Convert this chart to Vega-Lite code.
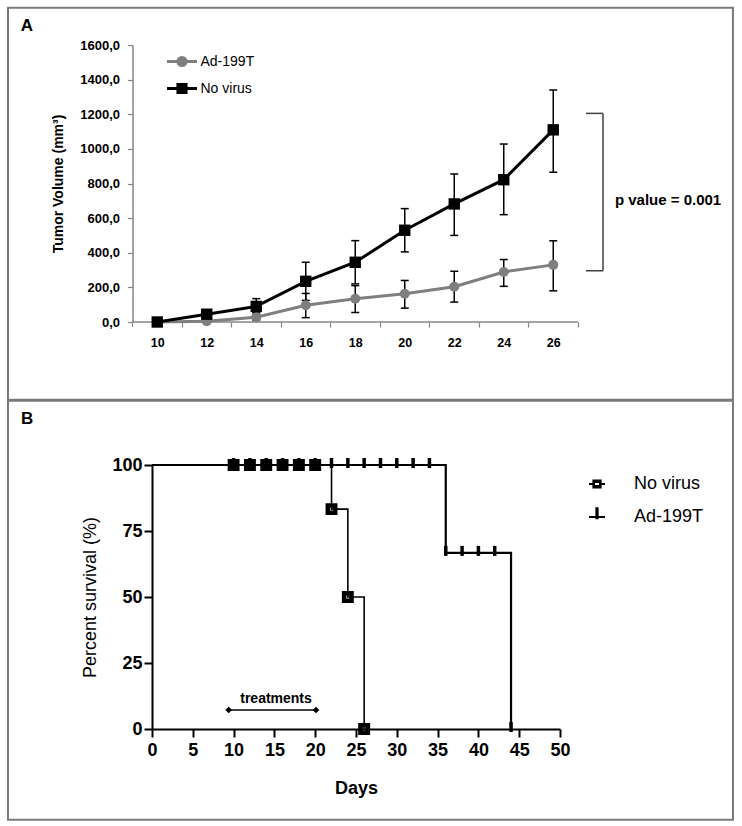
{
  "$schema": "https://vega.github.io/schema/vega-lite/v6.json",
  "padding": {"left": 6, "top": 6, "right": 0, "bottom": 0},
  "spacing": -2,
  "resolve": {
    "scale": {"fill": "independent", "stroke": "independent", "shape": "independent"},
    "legend": {"fill": "independent", "stroke": "independent", "shape": "independent"}
  },
  "config": {
    "view": {"stroke": null},
    "font": "Liberation Sans",
    "axis": {"grid": false, "labelOverlap": false},
    "locale": {"number": {"decimal": ",", "thousands": ".", "grouping": [3], "currency": ["", ""]}}
  },
  "datasets": {
    "tumor": [
      {"group": "Ad-199T", "day": 10, "mean": 0, "lo": 0, "hi": 0},
      {"group": "Ad-199T", "day": 12, "mean": 5, "lo": 0, "hi": 15},
      {"group": "Ad-199T", "day": 14, "mean": 28, "lo": 10, "hi": 45},
      {"group": "Ad-199T", "day": 16, "mean": 97, "lo": 25, "hi": 165},
      {"group": "Ad-199T", "day": 18, "mean": 134, "lo": 55, "hi": 210},
      {"group": "Ad-199T", "day": 20, "mean": 163, "lo": 80, "hi": 240},
      {"group": "Ad-199T", "day": 22, "mean": 204, "lo": 115, "hi": 293},
      {"group": "Ad-199T", "day": 24, "mean": 289, "lo": 206, "hi": 361},
      {"group": "Ad-199T", "day": 26, "mean": 330, "lo": 180, "hi": 469},
      {"group": "No virus", "day": 10, "mean": 0, "lo": 0, "hi": 0},
      {"group": "No virus", "day": 12, "mean": 45, "lo": 30, "hi": 60},
      {"group": "No virus", "day": 14, "mean": 90, "lo": 55, "hi": 135},
      {"group": "No virus", "day": 16, "mean": 235, "lo": 125, "hi": 345},
      {"group": "No virus", "day": 18, "mean": 345, "lo": 220, "hi": 470},
      {"group": "No virus", "day": 20, "mean": 530, "lo": 405, "hi": 655},
      {"group": "No virus", "day": 22, "mean": 682, "lo": 500, "hi": 855},
      {"group": "No virus", "day": 24, "mean": 822, "lo": 620, "hi": 1028},
      {"group": "No virus", "day": 26, "mean": 1110, "lo": 865, "hi": 1340}
    ],
    "survival": [
      {"group": "No virus", "day": 0, "pct": 100},
      {"group": "No virus", "day": 22, "pct": 83.3},
      {"group": "No virus", "day": 24, "pct": 50},
      {"group": "No virus", "day": 26, "pct": 0},
      {"group": "Ad-199T", "day": 0, "pct": 100},
      {"group": "Ad-199T", "day": 36, "pct": 66.7},
      {"group": "Ad-199T", "day": 44, "pct": 0}
    ],
    "censor": [
      {"group": "Ad-199T", "day": 10, "pct": 100},
      {"group": "Ad-199T", "day": 12, "pct": 100},
      {"group": "Ad-199T", "day": 14, "pct": 100},
      {"group": "Ad-199T", "day": 16, "pct": 100},
      {"group": "Ad-199T", "day": 18, "pct": 100},
      {"group": "Ad-199T", "day": 20, "pct": 100},
      {"group": "Ad-199T", "day": 22, "pct": 100},
      {"group": "Ad-199T", "day": 24, "pct": 100},
      {"group": "Ad-199T", "day": 26, "pct": 100},
      {"group": "Ad-199T", "day": 28, "pct": 100},
      {"group": "Ad-199T", "day": 30, "pct": 100},
      {"group": "Ad-199T", "day": 32, "pct": 100},
      {"group": "Ad-199T", "day": 34, "pct": 100},
      {"group": "Ad-199T", "day": 36, "pct": 66.7},
      {"group": "Ad-199T", "day": 38, "pct": 66.7},
      {"group": "Ad-199T", "day": 40, "pct": 66.7},
      {"group": "Ad-199T", "day": 42, "pct": 66.7},
      {"group": "Ad-199T", "day": 44, "pct": 0},
      {"group": "No virus", "day": 10, "pct": 100},
      {"group": "No virus", "day": 12, "pct": 100},
      {"group": "No virus", "day": 14, "pct": 100},
      {"group": "No virus", "day": 16, "pct": 100},
      {"group": "No virus", "day": 18, "pct": 100},
      {"group": "No virus", "day": 20, "pct": 100},
      {"group": "No virus", "day": 22, "pct": 83.3},
      {"group": "No virus", "day": 24, "pct": 50},
      {"group": "No virus", "day": 26, "pct": 0}
    ],
    "treat": [
      {"day": 9.4, "pct": 7.2},
      {"day": 20.1, "pct": 7.2}
    ]
  },
  "vconcat": [
    {
      "width": 426,
      "height": 277,
      "layer": [
        {
          "data": {"values": [{}]},
          "mark": {"type": "rect", "clip": false, "fill": "transparent", "stroke": "#7a7a7a", "strokeWidth": 2},
          "encoding": {
            "x": {"datum": 3.97, "type": "quantitative", "scale": {"domain": [9.788, 27], "nice": false, "zero": false},
              "axis": {"values": [11, 13, 15, 17, 19, 21, 23, 25, 27], "tickCount": 9, "labelExpr": "format(datum.value - 1, 'd')", "labelOffset": -24.75, "title": null, "domain": false, "tickColor": "#868686", "tickWidth": 1.2, "tickSize": 5, "labelFontSize": 12.5, "labelFontWeight": "bold", "labelColor": "black", "labelPadding": 9, "labelFlush": false, "labelOverlap": false}},
            "x2": {"datum": 33.26},
            "y": {"datum": 1815.5, "type": "quantitative", "scale": {"domain": [0, 1600], "nice": false},
              "axis": {"values": [0, 200, 400, 600, 800, 1000, 1200, 1400, 1600], "tickCount": 9, "format": ".1f", "offset": 19.5, "title": "Tumor Volume (mm³)", "titleFontSize": 14, "titleFontWeight": "bold", "titleColor": "black", "titlePadding": 14, "domainColor": "#868686", "domainWidth": 1.5, "tickColor": "#868686", "tickWidth": 1.2, "tickSize": 5, "labelFontSize": 13, "labelFontWeight": "bold", "labelColor": "black", "labelPadding": 8, "labelFlush": false, "labelOverlap": false}},
            "y2": {"datum": -448.8}
          }
        },
        {
          "data": {"values": [{}]},
          "mark": {"type": "rule", "clip": false, "color": "#868686", "strokeWidth": 1.5},
          "encoding": {"x": {"datum": 9, "type": "quantitative"}, "x2": {"datum": 27}, "y": {"datum": 0, "type": "quantitative"}}
        },
        {
          "data": {"values": [{}]},
          "mark": {"type": "rule", "clip": false, "color": "#868686", "strokeWidth": 1.2},
          "encoding": {"x": {"datum": 9, "type": "quantitative"}, "y": {"datum": 0, "type": "quantitative"}, "y2": {"datum": -29}}
        },
        {
          "data": {"name": "tumor"},
          "transform": [{"filter": "datum.hi > datum.lo"}],
          "mark": {"type": "rule", "color": "black", "strokeWidth": 1.5},
          "encoding": {
            "x": {"field": "day", "type": "quantitative"},
            "y": {"field": "lo", "type": "quantitative"},
            "y2": {"field": "hi"}
          }
        },
        {
          "data": {"name": "tumor"},
          "transform": [{"filter": "datum.hi > datum.lo"}],
          "mark": {"type": "tick", "orient": "horizontal", "size": 8, "thickness": 1.5, "color": "black", "opacity": 1},
          "encoding": {
            "x": {"field": "day", "type": "quantitative"},
            "y": {"field": "lo", "type": "quantitative"}
          }
        },
        {
          "data": {"name": "tumor"},
          "transform": [{"filter": "datum.hi > datum.lo"}],
          "mark": {"type": "tick", "orient": "horizontal", "size": 8, "thickness": 1.5, "color": "black", "opacity": 1},
          "encoding": {
            "x": {"field": "day", "type": "quantitative"},
            "y": {"field": "hi", "type": "quantitative"}
          }
        },
        {
          "data": {"name": "tumor"},
          "transform": [{"filter": "datum.group == 'Ad-199T'"}],
          "mark": {"type": "line", "color": "#7f7f7f", "strokeWidth": 3, "point": {"filled": true, "shape": "circle", "size": 100, "color": "#7f7f7f", "opacity": 1}},
          "encoding": {
            "x": {"field": "day", "type": "quantitative"},
            "y": {"field": "mean", "type": "quantitative"}
          }
        },
        {
          "data": {"name": "tumor"},
          "transform": [{"filter": "datum.group == 'No virus'"}],
          "mark": {"type": "line", "color": "#000000", "strokeWidth": 3, "point": {"filled": true, "shape": "square", "size": 130, "color": "#000000", "opacity": 1}},
          "encoding": {
            "x": {"field": "day", "type": "quantitative"},
            "y": {"field": "mean", "type": "quantitative"}
          }
        },
        {
          "data": {"name": "tumor"},
          "transform": [{"filter": "false"}],
          "mark": {"type": "point", "filled": true, "opacity": 1},
          "encoding": {
            "x": {"field": "day", "type": "quantitative"},
            "y": {"field": "mean", "type": "quantitative"},
            "fill": {"field": "group", "type": "nominal", "scale": {"domain": ["Ad-199T", "No virus"], "range": ["#7f7f7f", "#000000"]}},
            "stroke": {"field": "group", "type": "nominal", "scale": {"domain": ["Ad-199T", "No virus"], "range": ["#7f7f7f", "#000000"]}},
            "shape": {"field": "group", "type": "nominal",
              "scale": {"domain": ["Ad-199T", "No virus"], "range": ["M-1,0H1M0.27,0A0.27,0.27 0 1,1 -0.27,0A0.27,0.27 0 1,1 0.27,0Z", "M-1,0H1M-0.27,-0.27H0.27V0.27H-0.27Z"]},
              "legend": {"orient": "none", "legendX": 13.5, "legendY": 0, "title": null, "symbolSize": 900, "symbolStrokeWidth": 3, "symbolOpacity": 1, "labelFontSize": 14, "labelColor": "black", "labelOffset": 2, "rowPadding": -2}}
          }
        },
        {
          "data": {"values": [{}]},
          "mark": {"type": "rule", "clip": false, "color": "#404040", "strokeWidth": 1.5},
          "encoding": {"x": {"datum": 27.32, "type": "quantitative"}, "x2": {"datum": 28.01}, "y": {"datum": 1205, "type": "quantitative"}}
        },
        {
          "data": {"values": [{}]},
          "mark": {"type": "rule", "clip": false, "color": "#404040", "strokeWidth": 1.5},
          "encoding": {"x": {"datum": 27.32, "type": "quantitative"}, "x2": {"datum": 28.01}, "y": {"datum": 296, "type": "quantitative"}}
        },
        {
          "data": {"values": [{}]},
          "mark": {"type": "rule", "clip": false, "color": "#404040", "strokeWidth": 1.5},
          "encoding": {"x": {"datum": 28.01, "type": "quantitative"}, "y": {"datum": 296, "type": "quantitative"}, "y2": {"datum": 1205}}
        },
        {
          "data": {"values": [{}]},
          "mark": {"type": "text", "clip": false, "text": "p value = 0.001", "align": "left", "baseline": "middle", "fontSize": 15, "fontWeight": "bold", "color": "black"},
          "encoding": {"x": {"datum": 28.49, "type": "quantitative"}, "y": {"datum": 706, "type": "quantitative"}}
        },
        {
          "data": {"values": [{}]},
          "mark": {"type": "text", "clip": false, "text": "A", "align": "center", "baseline": "middle", "fontSize": 17, "fontWeight": "bold", "color": "black"},
          "encoding": {"x": {"datum": 4.73, "type": "quantitative"}, "y": {"datum": 1707, "type": "quantitative"}}
        }
      ]
    },
    {
      "width": 408,
      "height": 264,
      "layer": [
        {
          "data": {"values": [{}]},
          "mark": {"type": "rect", "clip": false, "fill": "transparent", "stroke": "#7a7a7a", "strokeWidth": 2},
          "encoding": {
            "x": {"datum": -17.65, "type": "quantitative", "scale": {"domain": [0, 50], "nice": false, "zero": false},
              "axis": {"values": [0, 5, 10, 15, 20, 25, 30, 35, 40, 45, 50], "tickCount": 11, "title": "Days", "titleFontSize": 18, "titleFontWeight": "bold", "titleColor": "black", "titlePadding": 20, "domainColor": "black", "domainWidth": 2, "tickColor": "black", "tickWidth": 2, "tickSize": 8, "labelFontSize": 18, "labelFontWeight": "bold", "labelColor": "black", "labelPadding": 4, "labelFlush": false, "labelOverlap": false}},
            "x2": {"datum": 71.2},
            "y": {"datum": 124.36, "type": "quantitative", "scale": {"domain": [0, 100], "nice": false},
              "axis": {"values": [0, 25, 50, 75, 100], "tickCount": 5, "title": "Percent survival (%)", "titleFontSize": 18, "titleFontWeight": "normal", "titleColor": "black", "titlePadding": 12, "domainColor": "black", "domainWidth": 2, "tickColor": "black", "tickWidth": 2, "tickSize": 8, "labelFontSize": 18, "labelFontWeight": "bold", "labelColor": "black", "labelPadding": 2, "labelFlush": false, "labelOverlap": false}},
            "y2": {"datum": -34.36}
          }
        },
        {
          "data": {"name": "survival"},
          "transform": [{"filter": "datum.group == 'Ad-199T'"}],
          "mark": {"type": "line", "interpolate": "step-after", "color": "black", "strokeWidth": 2.2},
          "encoding": {"x": {"field": "day", "type": "quantitative"}, "y": {"field": "pct", "type": "quantitative"}}
        },
        {
          "data": {"name": "survival"},
          "transform": [{"filter": "datum.group == 'No virus'"}],
          "mark": {"type": "line", "interpolate": "step-after", "color": "black", "strokeWidth": 1.6},
          "encoding": {"x": {"field": "day", "type": "quantitative"}, "y": {"field": "pct", "type": "quantitative"}}
        },
        {
          "data": {"name": "censor"},
          "transform": [{"filter": "datum.group == 'Ad-199T'"}],
          "mark": {"type": "tick", "orient": "vertical", "size": 10, "thickness": 3.5, "color": "black", "opacity": 1, "yOffset": -2},
          "encoding": {"x": {"field": "day", "type": "quantitative"}, "y": {"field": "pct", "type": "quantitative"}}
        },
        {
          "data": {"name": "censor"},
          "transform": [{"filter": "datum.group == 'No virus'"}],
          "mark": {"type": "point", "shape": "square", "filled": false, "stroke": "black", "strokeWidth": 4.5, "size": 55, "opacity": 1},
          "encoding": {"x": {"field": "day", "type": "quantitative"}, "y": {"field": "pct", "type": "quantitative"}}
        },
        {
          "data": {"name": "treat"},
          "mark": {"type": "line", "color": "black", "strokeWidth": 1.5, "point": {"shape": "diamond", "filled": true, "size": 45, "color": "black", "opacity": 1}},
          "encoding": {"x": {"field": "day", "type": "quantitative"}, "y": {"field": "pct", "type": "quantitative"}}
        },
        {
          "data": {"values": [{}]},
          "mark": {"type": "text", "text": "treatments", "align": "center", "baseline": "middle", "fontSize": 14, "fontWeight": "bold", "color": "black"},
          "encoding": {"x": {"datum": 15.2, "type": "quantitative"}, "y": {"datum": 11.4, "type": "quantitative"}}
        },
        {
          "data": {"name": "survival"},
          "transform": [{"filter": "false"}],
          "mark": {"type": "point", "filled": true, "opacity": 1},
          "encoding": {
            "x": {"field": "day", "type": "quantitative"},
            "y": {"field": "pct", "type": "quantitative"},
            "fill": {"field": "group", "type": "nominal", "scale": {"domain": ["No virus", "Ad-199T"], "range": ["black", "black"]}},
            "stroke": {"field": "group", "type": "nominal", "scale": {"domain": ["No virus", "Ad-199T"], "range": ["black", "black"]}},
            "shape": {"field": "group", "type": "nominal",
              "scale": {"domain": ["No virus", "Ad-199T"], "range": ["M-1,0H-0.45M0.45,0H1M-0.45,-0.45H0.45V0.45H-0.45ZM-0.37,-0.25V0.25H0.37V-0.25Z", "M-1,0H1M-0.08,-1.1H0.08V0.15H-0.08Z"]},
              "legend": {"orient": "none", "legendX": 436, "legendY": 10, "title": null, "symbolSize": 256, "symbolStrokeWidth": 2, "symbolOpacity": 1, "labelFontSize": 18, "labelColor": "black", "labelOffset": 28, "rowPadding": 11}}
          }
        },
        {
          "data": {"values": [{}]},
          "mark": {"type": "text", "clip": false, "text": "B", "align": "center", "baseline": "middle", "fontSize": 17, "fontWeight": "bold", "color": "black"},
          "encoding": {"x": {"datum": -15.29, "type": "quantitative"}, "y": {"datum": 117.35, "type": "quantitative"}}
        }
      ]
    }
  ]
}
